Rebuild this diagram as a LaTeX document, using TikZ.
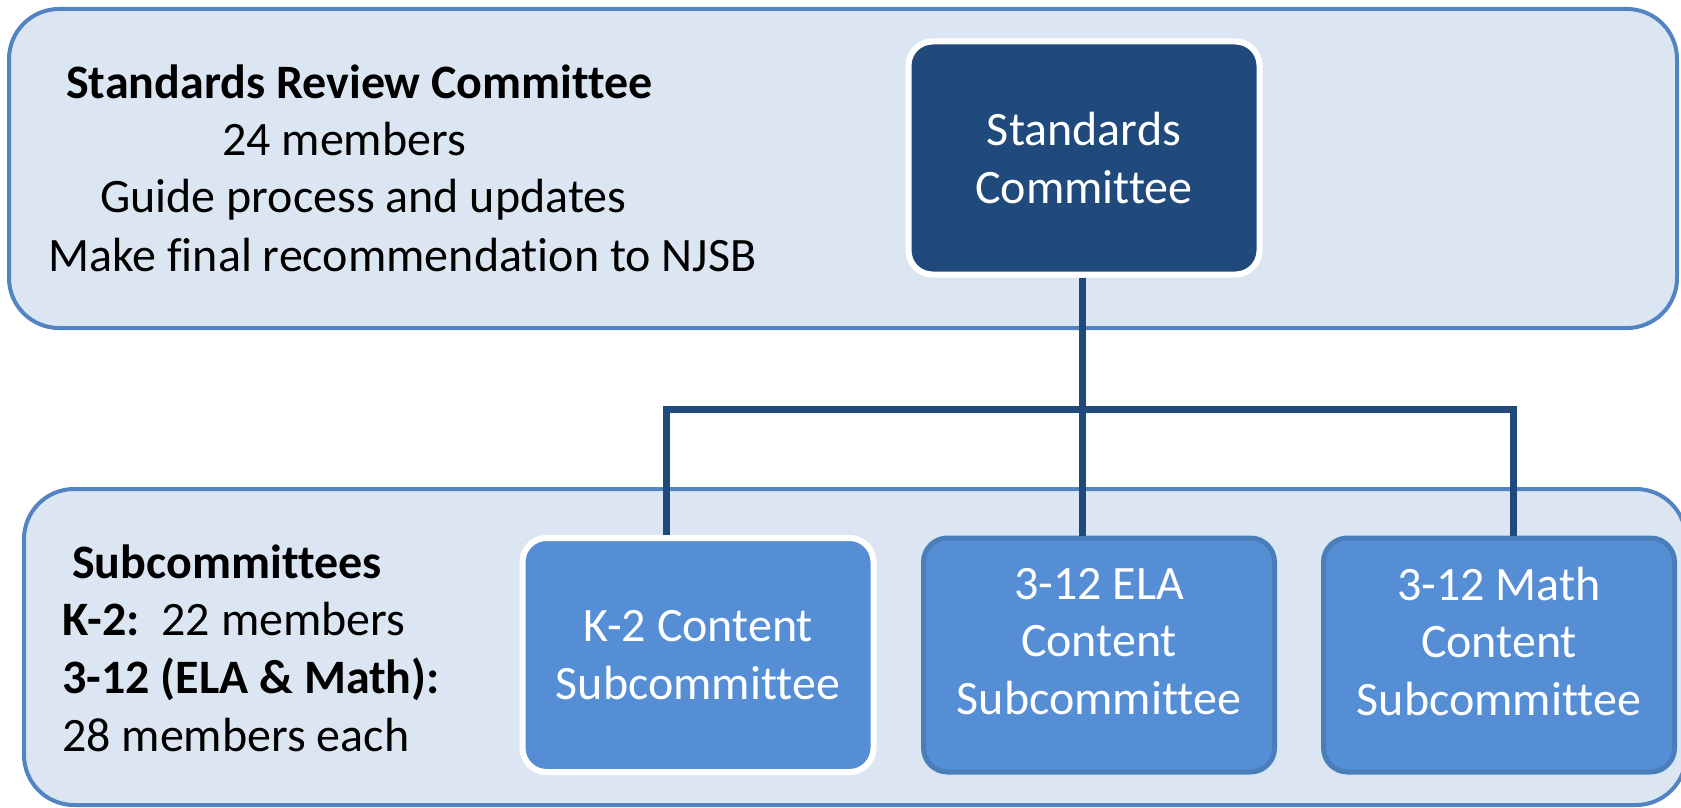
\documentclass[tikz,border=0pt]{standalone}
\usepackage{fontspec}
\setmainfont{Carlito}[Ligatures=NoCommon]
\definecolor{panelfill}{HTML}{DCE6F2}
\definecolor{panelline}{HTML}{5283C2}
\definecolor{navy}{HTML}{214A7C}
\definecolor{midblue}{HTML}{558ED5}
\definecolor{boxline}{HTML}{4A7EBB}
\begin{document}
\begin{tikzpicture}[x=1pt, y=-1pt,
					panel/.style = {draw=panelline, fill=panelfill, line width=4pt, rounded corners=50pt},
					topbox/.style = {draw=white, fill=navy, line width=6pt, rounded corners=24pt,
						minimum width=351pt, minimum height=233pt, text=white, align=center, font=\biglabel},
					subbox/.style = {draw=boxline, fill=midblue, line width=5pt, rounded corners=24pt,
						minimum width=351pt, minimum height=234pt, text=white, align=center, font=\biglabel},
					note/.style = {anchor=base west, inner sep=0pt, font=\biglabel},
					link/.style = {draw=navy, line width=7pt}
				]
				\newcommand{\biglabel}{\fontsize{48}{57.5}\selectfont}

				\useasboundingbox (0,0) rectangle (1681,808);
				\clip (0,0) rectangle (1681,808);

				% the two panels
				\draw[panel] (9,9) rectangle (1677,328);
				\draw[panel] (24,489) rectangle (1686,805);

				% texts on the panels
				\node[note] (srcTitle) at (66,98) {\textbf{Standards Review Committee}};
				\node[note] (srcMembers) at (222,155) {24 members};
				\node[note] (srcGuide) at (100,212) {Guide process and updates};
				\node[note] (srcFinal) at (48,271) {Make final recommendation to NJSB};

				\node[note] (subTitle) at (72,578) {\textbf{Subcommittees}};
				\node[note] (subK) at (62,635) {\textbf{K-2:}\ \ 22 members};
				\node[note] (subUpper) at (62,693) {\textbf{3-12 (ELA \& Math):}};
				\node[note] (subEach) at (62,751) {28 members each};

				% boxes
				\node[topbox] (std) at (1084,158) {Standards\\Committee};
				\node[subbox, draw=white, line width=6pt] (k2) at (698,655) {K-2 Content\\Subcommittee};
				\node[subbox] (ela) at (1099,655) {3-12 ELA\\Content\\Subcommittee\\[-30pt]\mbox{}};
				\node[subbox] (math) at (1499,655) {3-12 Math\\Content\\Subcommittee\\[-30pt]\mbox{}};

				% connectors
				\coordinate (hub) at (1082,409);
				\coordinate (busL) at (666,409);
				\coordinate (busR) at (1513,409);
				\draw[link] (std.south -| hub) -- (hub |- ela.north);
				\draw[link] (busL |- k2.north) -- (busL) -- (busR) -- (busR |- math.north);
			\end{tikzpicture}
\end{document}
